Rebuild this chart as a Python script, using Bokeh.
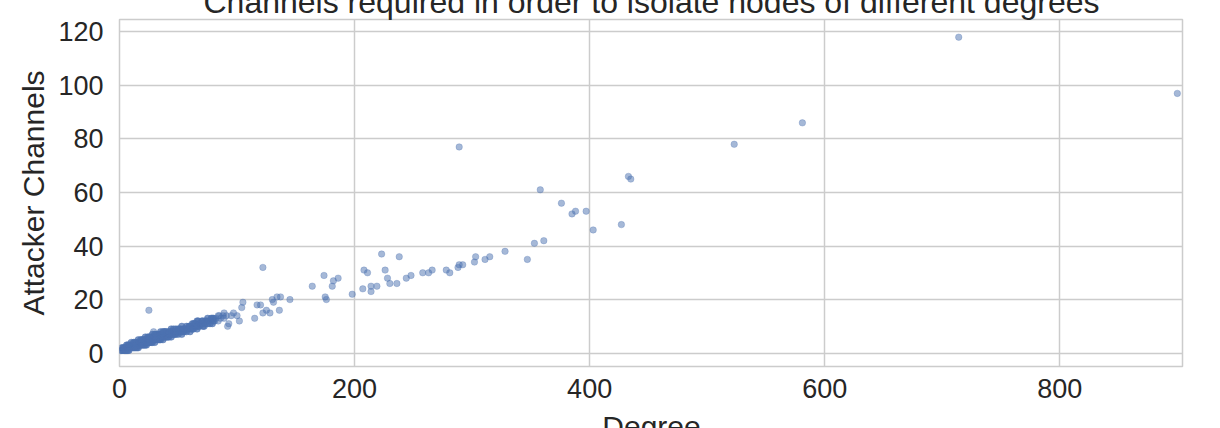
from bokeh.plotting import figure
from bokeh.models import Range1d, FixedTicker, ColumnDataSource, Div
from bokeh.layouts import column
from bokeh.embed import file_html
from bokeh.resources import INLINE

title_text = "Channels required in order to isolate nodes of different degrees"
x_label = "Degree"
y_label = "Attacker Channels"
x_ticks = [0, 200, 400, 600, 800]
y_ticks = [0, 20, 40, 60, 80, 100, 120]

# dense cluster of low-degree nodes (heavily overlapping)
dense_degree = [
    1, 2, 2, 3, 3, 4, 4, 5, 5, 6, 6, 6, 7, 7, 7, 8, 8, 8, 9, 9,
    10, 10, 10, 11, 11, 12, 12, 12, 13, 13, 13, 14, 14, 14, 15, 15, 15,
    16, 16, 16, 16, 17, 17, 18, 18, 18, 19, 19, 19, 20, 20, 20, 21, 21, 21,
    22, 22, 22, 22, 23, 23, 23, 24, 24, 24, 25, 25, 25, 26, 26, 26,
    27, 27, 27, 28, 28, 28, 28, 29, 29, 30, 30, 30, 30, 31, 31, 31,
    32, 32, 32, 33, 33, 33, 34, 34, 34, 35, 35, 35, 35, 36, 36,
    37, 37, 37, 37, 38, 38, 38, 39, 39, 39, 40, 40, 40, 41, 41,
    42, 42, 42, 43, 43, 44, 44, 44, 44, 45, 45, 46, 46, 46, 47, 47,
    48, 48, 48, 49, 50, 50, 50, 51, 51, 52, 52, 53, 53, 53, 54, 54,
    55, 55, 56, 57, 57, 57, 58, 59, 59, 60, 60, 61, 61, 62, 62, 62,
    63, 63, 64, 64, 65, 65, 66, 66, 66, 67, 67, 68, 68, 69, 70, 70,
    71, 71, 71, 72, 73, 73, 74, 75, 75, 76, 77, 78, 78, 79, 79, 80, 80,
]
dense_channels = [
    1, 1, 2, 1, 2, 1, 2, 1, 2, 1, 2, 3, 1, 2, 3, 1, 2, 3, 2, 3,
    2, 3, 4, 2, 3, 2, 3, 4, 2, 3, 4, 2, 3, 4, 2, 3, 4,
    2, 3, 4, 5, 3, 4, 3, 4, 5, 3, 4, 5, 3, 4, 5, 3, 4, 5,
    3, 4, 5, 6, 3, 4, 5, 4, 5, 6, 4, 5, 6, 4, 5, 6,
    4, 5, 6, 4, 5, 6, 7, 5, 6, 4, 5, 6, 7, 5, 6, 7,
    5, 6, 7, 5, 6, 7, 5, 6, 7, 5, 6, 7, 8, 6, 7,
    5, 6, 7, 8, 6, 7, 8, 6, 7, 8, 6, 7, 8, 6, 7,
    6, 7, 8, 7, 8, 6, 7, 8, 9, 7, 8, 7, 8, 9, 7, 8,
    7, 8, 9, 8, 7, 8, 9, 8, 9, 8, 9, 7, 8, 10, 8, 9,
    8, 9, 9, 8, 9, 10, 9, 9, 10, 8, 10, 9, 10, 9, 10, 11,
    9, 11, 10, 11, 10, 11, 9, 10, 12, 10, 12, 10, 11, 11, 11, 12,
    10, 11, 12, 10, 11, 12, 12, 11, 13, 12, 11, 12, 13, 11, 13, 12, 13,
]

# scattered nodes
sparse_degree = [
    25, 29, 81, 82, 84, 84, 85, 86, 88, 89, 89, 91, 92, 93, 95, 97, 100,
    102, 104, 105, 115, 117, 120, 122, 122, 125, 128, 130, 131, 134, 136,
    137, 145,
    164, 174, 175, 176, 181, 182, 186, 198, 207, 208, 211, 214, 214, 219,
    223, 226, 228, 230, 236, 238, 244, 248, 258, 263, 266, 278, 281, 288,
    289, 289, 292, 302, 303, 311, 315, 328, 347, 353, 358, 361, 376, 385,
    388, 397, 403, 427, 433, 435, 523, 581, 714, 900,
]
sparse_channels = [
    16, 8, 12, 13, 12, 14, 14, 13, 14, 13, 15, 14, 10, 11, 14, 15, 14,
    12, 17, 19, 13, 18, 18, 15, 32, 16, 15, 20, 19, 21, 16,
    21, 20,
    25, 29, 21, 20, 25, 27, 28, 22, 24, 31, 30, 25, 23, 25,
    37, 31, 28, 26, 26, 36, 28, 29, 30, 30, 31, 31, 30, 32,
    33, 77, 33, 34, 36, 35, 36, 38, 35, 41, 61, 42, 56, 52,
    53, 53, 46, 48, 66, 65, 78, 86, 118, 97,
]

TXT = "#262626"
GRID = "#cccccc"
FONT = "Liberation Sans"
BLUE = "#4c72b0"

p = figure(
    width=1220, height=428,
    output_backend="svg", toolbar_location=None,
    x_range=Range1d(0, 904.4), y_range=Range1d(-5, 124.6),
    min_border_left=119, min_border_right=38,
    min_border_top=19, min_border_bottom=62,
)
p.background_fill_color = "white"
p.border_fill_color = "white"
p.outline_line_color = GRID
p.outline_line_width = 1.5

dense_src = ColumnDataSource(dict(x=dense_degree, y=dense_channels))
sparse_src = ColumnDataSource(dict(x=sparse_degree, y=sparse_channels))
p.scatter("x", "y", source=dense_src, size=6.5, fill_color=BLUE, fill_alpha=0.75,
          line_color=BLUE, line_alpha=0.75, line_width=0.6)
p.scatter("x", "y", source=sparse_src, size=6.5, fill_color=BLUE, fill_alpha=0.5,
          line_color=BLUE, line_alpha=0.45, line_width=0.6)

p.xaxis.ticker = FixedTicker(ticks=x_ticks)
p.yaxis.ticker = FixedTicker(ticks=y_ticks)
for ax in (p.xaxis, p.yaxis):
    ax.axis_line_color = None
    ax.major_tick_line_color = None
    ax.minor_tick_line_color = None
    ax.major_tick_in = 0
    ax.major_tick_out = 0
    ax.major_label_text_font = FONT
    ax.major_label_text_font_size = "27px"
    ax.major_label_text_color = TXT
p.xaxis.major_label_standoff = 12
p.yaxis.major_label_standoff = 16

p.yaxis.axis_label = y_label
p.yaxis.axis_label_text_font = FONT
p.yaxis.axis_label_text_font_size = "30px"
p.yaxis.axis_label_text_font_style = "normal"
p.yaxis.axis_label_text_color = TXT
p.yaxis.axis_label_standoff = 5

for g in (p.xgrid, p.ygrid):
    g.grid_line_color = GRID
    g.grid_line_width = 1.5
p.xgrid.ticker = FixedTicker(ticks=x_ticks)
p.ygrid.ticker = FixedTicker(ticks=y_ticks)

# title and x-axis label, partly cut off by the picture's edges as in the original
title_div = Div(text=title_text, width=1063, height=35, styles={
    "position": "absolute", "left": "115px", "top": "-20px",
    "font-family": FONT, "font-size": "32px", "line-height": "35px",
    "color": TXT, "text-align": "center", "white-space": "nowrap",
    "z-index": "5",
})
xlabel_div = Div(text=x_label, width=1063, height=35, styles={
    "position": "absolute", "left": "115px", "top": "404px",
    "font-family": FONT, "font-size": "30px", "line-height": "35px",
    "color": TXT, "text-align": "center", "white-space": "nowrap",
    "z-index": "5",
})

page = column(p, title_div, xlabel_div, styles={
    "position": "relative", "overflow": "hidden",
    "width": "1220px", "height": "428px",
})

open("out.html", "w").write(file_html(page, INLINE))
